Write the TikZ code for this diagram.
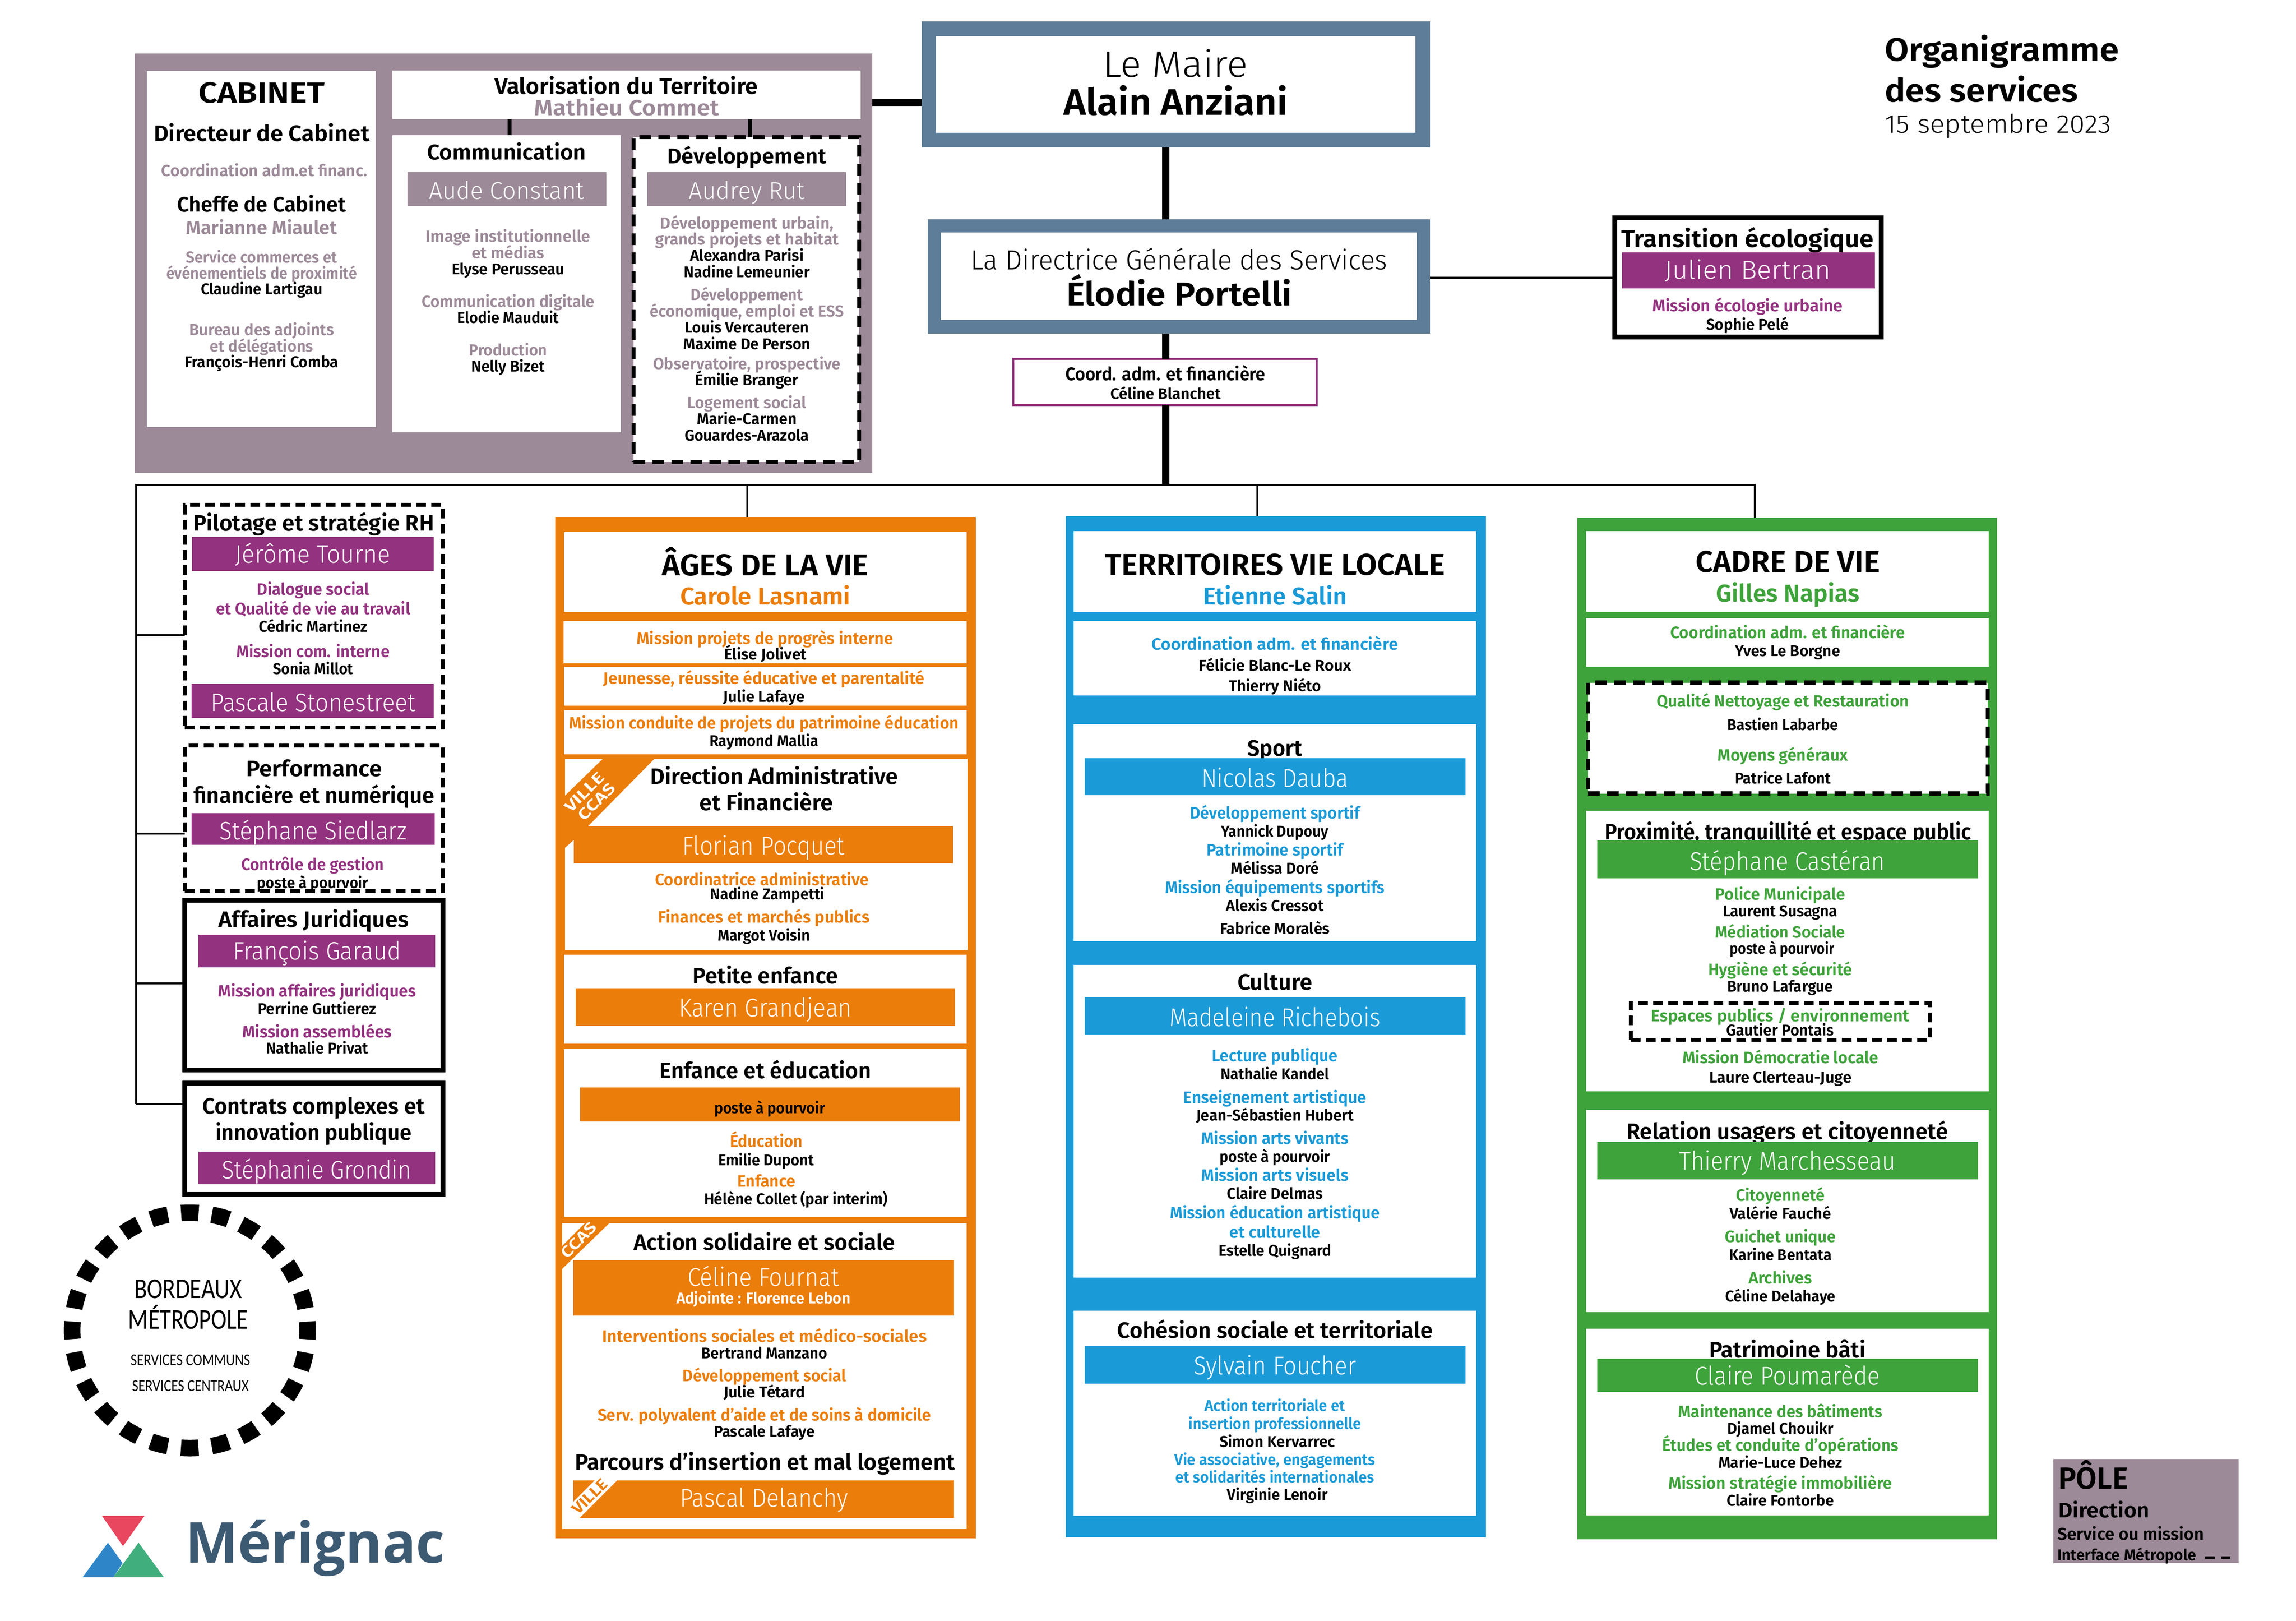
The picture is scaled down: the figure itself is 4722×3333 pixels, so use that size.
\documentclass[tikz,border=0pt]{standalone}
\usepackage{graphicx}
\usepackage{fontspec}
\setmainfont{Fira Sans}
\newfontfamily\lightf{Fira Sans Light}
\newfontfamily\medf{Fira Sans SemiBold}
\newfontfamily\brdf{Carlito}
\newfontfamily\logof{Open Sans}
\definecolor{cgrey}{HTML}{9C8A98}
\definecolor{cslate}{HTML}{5E7D99}
\definecolor{cpur}{HTML}{93327F}
\definecolor{cor}{HTML}{EB7D0A}
\definecolor{cblu}{HTML}{1A9AD7}
\definecolor{cgrn}{HTML}{3EA33A}
\definecolor{cred}{HTML}{E8475F}
\definecolor{clb}{HTML}{2E86C8}
\definecolor{clg}{HTML}{41AE7E}
\definecolor{clt}{HTML}{3D5A73}
\newcommand\tk{\medf\color{black}}
\newcommand\tg{\medf\color{cgrey}}
\newcommand\tp{\medf\color{cpur}}
\newcommand\tor{\medf\color{cor}}
\newcommand\tbl{\medf\color{cblu}}
\newcommand\tgn{\medf\color{cgrn}}
\newcommand\tws{\medf\color{white}}
\newcommand\twl{\lightf\color{white}}
\newcommand\tkl{\lightf\color{black}}
\newsavebox\tbx
\newcounter{tc}
% text fitted to a width in reference pixels: \fitt{width}{size}{font}{text}
\newcommand\fitt[4]{%
  \pgfmathsetmacro\fsz{#2*0.2}%
  \sbox\tbx{\fontsize{\fsz pt}{\fsz pt}\selectfont #3 #4}%
  \pgfmathsetmacro\rr{(#1*0.2)/\the\wd\tbx}%
  \scalebox{\rr}[1]{\usebox\tbx}%
}
% \T{x}{y}{width}{size}{font}{text}
\newcommand\T[6]{%
  \stepcounter{tc}%
  \pgfmathsetmacro\by{#2+3+0.34*#4}%
  \node[anchor=base,inner sep=0pt,outer sep=0pt] (t\arabic{tc}) at (#1,\by) {\fitt{#3}{#4}{#5}{#6}};%
}
% rotated tag
\newcommand\R[6]{%
  \stepcounter{tc}%
  \node[anchor=center,rotate=45,inner sep=0pt,outer sep=0pt] (t\arabic{tc}) at (#1,#2) {\fitt{#3}{#4}{#5}{#6}};%
}
% \B{name}{x0}{y0}{x1}{y1}{style}
\newcommand\B[6]{%
  \node[anchor=north west,inner sep=0pt,outer sep=0pt,minimum width={(#4-#2)*0.2pt},minimum height={(#5-#3)*0.2pt},#6] (#1) at (#2,#3) {};%
}
\tikzset{
  x=0.2pt,y=-0.2pt,
  whitebox/.style={fill=white},
  dashA/.style={draw=black,fill=white,line width=1.7pt,dash pattern=on 4.8pt off 3pt},
  dashB/.style={draw=black,fill=white,line width=1.6pt,dash pattern=on 4pt off 2.2pt},
  solidbox/.style={draw=black,fill=white,line width=1.9pt},
  thinlink/.style={draw=black,line width=0.8pt},
  midlink/.style={draw=black,line width=1.6pt},
  trunk/.style={draw=black,line width=3pt},
}
\begin{document}
\begin{tikzpicture}
\useasboundingbox (0,0) rectangle (4722,3333);
% ---------- top: cabinet panel
\B{cab}{276.5}{110}{1794}{972}{fill=cgrey}
\B{cabw}{302}{146}{773}{878}{whitebox}
\B{val}{807}{145}{1770}{245}{whitebox}
\B{comm}{807}{277.5}{1276.5}{888.5}{whitebox}
\B{dev}{1303}{282}{1767}{950}{dashA}
\B{audeb}{838}{354}{1247}{423.5}{fill=cgrey}
\B{audreyb}{1331}{354}{1740}{423.5}{fill=cgrey}
\coordinate (vx1) at (1048,260);
\coordinate (vx2) at (1543,260);
\coordinate (cy) at (1850,210);
\draw[midlink] (vx1 |- val.south) -- (vx1 |- comm.north);
\draw[midlink] (vx2 |- val.south) -- (vx2 |- dev.north);
\T{538}{188}{260}{60}{\tk}{CABINET}
\T{538}{272}{444}{46}{\tk}{Directeur de Cabinet}
\T{544}{348}{424}{33}{\tg}{Coordination adm.et financ.}
\T{538}{418}{347}{43}{\tk}{Cheffe de Cabinet}
\T{538}{466}{311}{38}{\tg}{Marianne Miaulet}
\T{538}{526}{311}{33}{\tg}{Service commerces et}
\T{538}{559}{392}{33}{\tg}{événementiels de proximité}
\T{538}{592}{250}{32}{\tk}{Claudine Lartigau}
\T{538}{675}{298}{33}{\tg}{Bureau des adjoints}
\T{538}{709}{213}{33}{\tg}{et délégations}
\T{538}{742}{316}{32}{\tk}{François-Henri Comba}
\T{1288}{175}{542}{46}{\tk}{Valorisation du Territoire}
\T{1289}{219}{381}{45}{\tg}{Mathieu Commet}
\T{1042}{311}{327}{44}{\tk}{Communication}
\T{1042}{389}{319}{50}{\twl}{Aude Constant}
\T{1045}{483}{339}{33}{\tg}{Image institutionnelle}
\T{1045}{517}{150}{33}{\tg}{et médias}
\T{1045}{551}{232}{32}{\tk}{Elyse Perusseau}
\T{1045}{617}{356}{33}{\tg}{Communication digitale}
\T{1045}{651}{209}{32}{\tk}{Elodie Mauduit}
\T{1045}{717}{161}{33}{\tg}{Production}
\T{1045}{751}{151}{32}{\tk}{Nelly Bizet}
\T{1536}{319}{327}{44}{\tk}{Développement}
\T{1536}{389}{239}{50}{\twl}{Audrey Rut}
\T{1536}{456}{357}{33}{\tg}{Développement urbain,}
\T{1536}{489}{378}{33}{\tg}{grands projets et habitat}
\T{1536}{523}{234}{32}{\tk}{Alexandra Parisi}
\T{1536}{557}{259}{32}{\tk}{Nadine Lemeunier}
\T{1536}{603}{231}{33}{\tg}{Développement}
\T{1536}{637}{399}{33}{\tg}{économique, emploi et ESS}
\T{1536}{671}{255}{32}{\tk}{Louis Vercauteren}
\T{1536}{705}{261}{32}{\tk}{Maxime De Person}
\T{1536}{745}{386}{33}{\tg}{Observatoire, prospective}
\T{1536}{779}{213}{32}{\tk}{Émilie Branger}
\T{1536}{825}{245}{33}{\tg}{Logement social}
\T{1536}{859}{205}{32}{\tk}{Marie-Carmen}
\T{1536}{893}{256}{32}{\tk}{Gouardes-Arazola}
% ---------- maire, DGS
\B{maire}{1896}{44}{2941}{302.5}{fill=cslate}
\B{mairew}{1925}{74}{2911}{273}{whitebox}
\B{dgs}{1908}{451}{2941}{686}{fill=cslate}
\B{dgsw}{1935}{478}{2914}{658}{whitebox}
\B{coord}{2084}{738}{2708}{833}{draw=cpur,fill=white,line width=0.9pt}
\B{trans}{3321}{448}{3869}{693}{solidbox}
\B{julb}{3336}{519}{3856}{592.5}{fill=cpur}
\coordinate (tr) at (2397,997);
\coordinate (busL) at (279.6,997);
\coordinate (busR) at (3609,997);
\coordinate (dy) at (3000,571);
\draw[trunk] (cab.east |- cy) -- (maire.west |- cy);
\draw[trunk] (tr |- maire.south) -- (tr |- dgs.north);
\draw[trunk] (tr |- dgs.south) -- (tr |- coord.north);
\draw[trunk] (tr |- coord.south) -- (tr);
\draw[thinlink] (dgs.east |- dy) -- (trans.west |- dy);
\T{2417}{130}{298}{76}{\tkl}{Le Maire}
\T{2418}{208}{462}{76}{\tk}{Alain Anziani}
\T{2425}{532}{857}{57}{\tkl}{La Directrice Générale des Services}
\T{2425}{602}{464}{68}{\tk}{Élodie Portelli}
\T{2397}{767}{411}{38}{\tk}{Coord. adm. et financière}
\T{2397}{807}{227}{31}{\tk}{Céline Blanchet}
\T{3594}{488}{520}{50}{\tk}{Transition écologique}
\T{3594}{552}{342}{53}{\twl}{Julien Bertran}
\T{3594}{626}{392}{34}{\tp}{Mission écologie urbaine}
\T{3594}{665}{170}{32}{\tk}{Sophie Pelé}
\T{4117}{100}{482}{67}{\tk}{Organigramme}
\T{4075}{184}{398}{67}{\tk}{des services}
\T{4109}{252}{466}{53}{\tkl}{15 septembre 2023}
% ---------- left stack
\B{pil}{380}{1038}{911}{1495.5}{dashB}
\B{perf}{380}{1533}{911}{1832}{dashB}
\B{aff}{380}{1851}{911}{2200.5}{solidbox}
\B{contr}{380}{2227}{911}{2456}{solidbox}
\T{645}{1073}{496}{46}{\tk}{Pilotage et stratégie RH}
\B{jerb}{395.4}{1104}{892}{1174}{fill=cpur}
\T{643}{1137}{319}{52}{\twl}{Jérôme Tourne}
\T{644}{1208.5}{231}{34}{\tp}{Dialogue social}
\T{644}{1249}{400}{34}{\tp}{et Qualité de vie au travail}
\T{644}{1286}{224}{32}{\tk}{Cédric Martinez}
\T{644}{1337}{315}{34}{\tp}{Mission com. interne}
\T{644}{1373}{165}{32}{\tk}{Sonia Millot}
\B{pasb}{394}{1405.6}{892}{1476}{fill=cpur}
\T{644}{1442}{421}{52}{\twl}{Pascale Stonestreet}
\T{646}{1578}{280}{46}{\tk}{Performance}
\T{646}{1633}{496}{46}{\tk}{financière et numérique}
\B{steb}{394}{1671.5}{894}{1736.6}{fill=cpur}
\T{644}{1706}{385}{52}{\twl}{Stéphane Siedlarz}
\T{643}{1775}{294}{34}{\tp}{Contrôle de gestion}
\T{643}{1813}{229}{32}{\tk}{poste à pourvoir}
\T{645}{1888}{391}{46}{\tk}{Affaires Juridiques}
\B{frab}{408}{1922}{895}{1989}{fill=cpur}
\T{652}{1953}{345}{52}{\twl}{François Garaud}
\T{652}{2035}{407}{34}{\tp}{Mission affaires juridiques}
\T{652}{2072}{244}{32}{\tk}{Perrine Guttierez}
\T{652}{2119}{308}{34}{\tp}{Mission assemblées}
\T{652}{2153}{210}{32}{\tk}{Nathalie Privat}
\T{645}{2272}{457}{46}{\tk}{Contrats complexes et}
\T{645}{2326}{403}{46}{\tk}{innovation publique}
\B{stgb}{408}{2368}{895}{2435}{fill=cpur}
\T{651}{2403}{389}{52}{\twl}{Stéphanie Grondin}
% ---------- orange column
\B{ages}{1142}{1063}{2006.6}{3163}{fill=cor}
\B{o1}{1160}{1093.5}{1988}{1257.6}{whitebox}
\B{o2}{1159}{1277}{1988}{1364}{whitebox}
\B{o3}{1160}{1371}{1988}{1451}{whitebox}
\B{o4}{1160}{1460}{1988}{1551}{whitebox}
\B{o5}{1162}{1560}{1989.5}{1953}{whitebox}
\B{o6}{1160}{1963}{1988}{2146}{whitebox}
\B{o7}{1160}{2157}{1988}{2502}{whitebox}
\B{o8}{1156}{2515}{1988}{3144}{whitebox}
\T{1574}{1159}{425}{62}{\tk}{ÂGES DE LA VIE}
\T{1574}{1223}{350}{50}{\tor}{Carole Lasnami}
\T{1573}{1309.5}{528}{34}{\tor}{Mission projets de progrès interne}
\T{1574}{1342.5}{170}{32}{\tk}{Élise Jolivet}
\T{1571}{1392}{661}{34}{\tor}{Jeunesse, réussite éducative et parentalité}
\T{1571}{1430}{168}{32}{\tk}{Julie Lafaye}
\T{1571}{1484}{802}{34}{\tor}{Mission conduite de projets du patrimoine éducation}
\T{1571}{1521}{224}{32}{\tk}{Raymond Mallia}
\fill[cor] (1162,1636) -- (1240,1560) -- (1346,1560) -- (1209,1699) -- (1180,1699) -- (1180,1727) -- (1162,1743) -- cycle;
\R{1202}{1629}{101}{32}{\tws}{VILLE}
\R{1227}{1648}{94}{32}{\tws}{CCAS}
\T{1592}{1594}{509}{46}{\tk}{Direction Administrative}
\T{1576}{1648}{275}{46}{\tk}{et Financière}
\B{florb}{1180}{1699}{1960}{1775}{fill=cor}
\T{1570}{1736}{334}{53}{\twl}{Florian Pocquet}
\T{1567}{1806}{440}{34}{\tor}{Coordinatrice administrative}
\T{1578}{1836}{235}{32}{\tk}{Nadine Zampetti}
\T{1571}{1883}{435}{34}{\tor}{Finances et marchés publics}
\T{1571}{1920.5}{190}{32}{\tk}{Margot Voisin}
\T{1574}{2004}{299}{46}{\tk}{Petite enfance}
\B{karb}{1184}{2032}{1964}{2109}{fill=cor}
\T{1574}{2069}{356}{53}{\twl}{Karen Grandjean}
\T{1574}{2199}{435}{46}{\tk}{Enfance et éducation}
\B{posb}{1193}{2236}{1974}{2306}{fill=cor}
\T{1583}{2276}{228}{32}{\tk}{poste à pourvoir}
\T{1576}{2344}{150}{34}{\tor}{Éducation}
\T{1576}{2382.5}{197}{32}{\tk}{Emilie Dupont}
\T{1576}{2426}{120}{34}{\tor}{Enfance}
\T{1637}{2463}{378}{32}{\tk}{Hélène Collet (par interim)}
\fill[cor] (1156,2562) -- (1203,2515) -- (1253,2515) -- (1156,2609) -- cycle;
\R{1190}{2550}{90}{32}{\tws}{CCAS}
\T{1572}{2552}{538}{46}{\tk}{Action solidaire et sociale}
\B{celb}{1179}{2591}{1962}{2704.5}{fill=cor}
\T{1570}{2623}{312}{53}{\twl}{Céline Fournat}
\T{1570}{2667}{358}{32}{\tws}{Adjointe : Florence Lebon}
\T{1572}{2744.5}{668}{34}{\tor}{Interventions sociales et médico-sociales}
\T{1572}{2779.6}{259}{32}{\tk}{Bertrand Manzano}
\T{1572}{2826}{337}{34}{\tor}{Développement social}
\T{1572}{2859.6}{168}{32}{\tk}{Julie Tétard}
\T{1572}{2906.6}{686}{34}{\tor}{Serv. polyvalent d’aide et de soins à domicile}
\T{1572}{2941}{208}{32}{\tk}{Pascale Lafaye}
\T{1573}{3004}{782}{46}{\tk}{Parcours d’insertion et mal logement}
\B{pasdb}{1179}{3044}{1962}{3121}{fill=cor}
\fill[white] (1223,3044) -- (1269,3044) -- (1192,3121) -- (1178,3121) -- (1178,3089) -- cycle;
\T{1571}{3077}{346}{53}{\twl}{Pascal Delanchy}
\R{1213}{3077}{88}{32}{\tor}{VILLE}
% ---------- blue column
\B{terr}{2192}{1060.5}{3056}{3161}{fill=cblu}
\B{b1}{2208}{1092}{3036}{1257.6}{whitebox}
\B{b2}{2208}{1276.6}{3036}{1429.5}{whitebox}
\B{b3}{2208}{1489}{3036}{1934.6}{whitebox}
\B{b4}{2208}{1983.7}{3036}{2626.7}{whitebox}
\B{b5}{2208}{2695.4}{3036}{3117}{whitebox}
\T{2622}{1158}{700}{62}{\tk}{TERRITOIRES VIE LOCALE}
\T{2622}{1223}{296}{50}{\tbl}{Etienne Salin}
\T{2622}{1321.5}{507}{34}{\tbl}{Coordination adm. et financière}
\T{2622}{1365.7}{313}{32}{\tk}{Félicie Blanc-Le Roux}
\T{2622}{1408}{190}{32}{\tk}{Thierry Niéto}
\T{2622}{1535.5}{114}{46}{\tk}{Sport}
\B{nicb}{2230.5}{1558.6}{3014}{1635}{fill=cblu}
\T{2622}{1597}{302}{53}{\twl}{Nicolas Dauba}
\T{2622}{1669}{350}{34}{\tbl}{Développement sportif}
\T{2622}{1706.6}{221}{32}{\tk}{Yannick Dupouy}
\T{2622}{1745}{281}{34}{\tbl}{Patrimoine sportif}
\T{2622}{1783}{181}{32}{\tk}{Mélissa Doré}
\T{2622}{1821.6}{452}{34}{\tbl}{Mission équipements sportifs}
\T{2622}{1859.5}{201}{32}{\tk}{Alexis Cressot}
\T{2622}{1906.5}{226}{32}{\tk}{Fabrice Moralès}
\T{2622}{2016.7}{154}{46}{\tk}{Culture}
\B{madb}{2230.5}{2050}{3014}{2127}{fill=cblu}
\T{2622}{2089.6}{434}{53}{\twl}{Madeleine Richebois}
\T{2622}{2168}{259}{34}{\tbl}{Lecture publique}
\T{2622}{2206}{224}{32}{\tk}{Nathalie Kandel}
\T{2622}{2253.5}{377}{34}{\tbl}{Enseignement artistique}
\T{2622}{2290.6}{324}{32}{\tk}{Jean-Sébastien Hubert}
\T{2622}{2338}{303}{34}{\tbl}{Mission arts vivants}
\T{2622}{2375.5}{227}{32}{\tk}{poste à pourvoir}
\T{2622}{2414}{303}{34}{\tbl}{Mission arts visuels}
\T{2622}{2452}{197}{32}{\tk}{Claire Delmas}
\T{2622}{2491}{432}{34}{\tbl}{Mission éducation artistique}
\T{2622}{2531}{187}{34}{\tbl}{et culturelle}
\T{2622}{2569}{232}{32}{\tk}{Estelle Quignard}
\T{2622}{2733}{649}{46}{\tk}{Cohésion sociale et territoriale}
\B{sylb}{2230.5}{2767.7}{3014}{2845}{fill=cblu}
\T{2622}{2805}{334}{53}{\twl}{Sylvain Foucher}
\T{2622}{2888}{289}{32}{\tbl}{Action territoriale et}
\T{2622}{2925}{355}{32}{\tbl}{insertion professionnelle}
\T{2627}{2962}{238}{32}{\tk}{Simon Kervarrec}
\T{2622}{2998.5}{413}{32}{\tbl}{Vie associative, engagements}
\T{2622}{3035}{409}{32}{\tbl}{et solidarités internationales}
\T{2627}{3071}{207}{32}{\tk}{Virginie Lenoir}
% ---------- green column
\B{cadre}{3243.5}{1064.7}{4107}{3165.4}{fill=cgrn}
\B{g1}{3262}{1092}{4090}{1257.6}{whitebox}
\B{g2}{3262}{1271}{4090}{1371}{whitebox}
\B{g3}{3266}{1403.5}{4088}{1631.5}{dashA}
\B{g4}{3262}{1667}{4090}{2244}{whitebox}
\B{g5}{3262}{2282}{4090}{2697.5}{whitebox}
\B{g6}{3262}{2732}{4090}{3116}{whitebox}
\T{3677}{1152}{379}{62}{\tk}{CADRE DE VIE}
\T{3677}{1217}{295}{50}{\tgn}{Gilles Napias}
\T{3676.5}{1297.6}{482}{34}{\tgn}{Coordination adm. et financière}
\T{3676.5}{1335.5}{216}{32}{\tk}{Yves Le Borgne}
\T{3666.5}{1439}{519}{34}{\tgn}{Qualité Nettoyage et Restauration}
\T{3666.5}{1488}{228}{32}{\tk}{Bastien Labarbe}
\T{3666.5}{1549.5}{268}{34}{\tgn}{Moyens généraux}
\T{3666.5}{1598}{197}{32}{\tk}{Patrice Lafont}
\T{3677}{1708}{754}{46}{\tk}{Proximité, tranquillité et espace public}
\B{casb}{3285}{1728}{4068}{1805.5}{fill=cgrn}
\T{3676}{1768}{402}{53}{\twl}{Stéphane Castéran}
\T{3661}{1835.7}{267}{34}{\tgn}{Police Municipale}
\T{3661}{1871}{236}{32}{\tk}{Laurent Susagna}
\T{3661}{1913.6}{268}{34}{\tgn}{Médiation Sociale}
\T{3665}{1948}{215}{32}{\tk}{poste à pourvoir}
\T{3661}{1991}{296}{34}{\tgn}{Hygiène et sécurité}
\T{3661}{2026}{218}{32}{\tk}{Bruno Lafargue}
\B{esp}{3354}{2061.6}{3969}{2138}{dashB}
\T{3661}{2086}{532}{34}{\tgn}{Espaces publics / environnement}
\T{3661}{2116}{221}{32}{\tk}{Gautier Pontais}
\T{3661.5}{2172}{403}{34}{\tgn}{Mission Démocratie locale}
\T{3661.5}{2213}{293}{32}{\tk}{Laure Clerteau-Juge}
\T{3676}{2324}{662}{46}{\tk}{Relation usagers et citoyenneté}
\B{thib}{3285}{2347.5}{4068}{2424.6}{fill=cgrn}
\T{3676}{2384}{446}{53}{\twl}{Thierry Marchesseau}
\T{3661.5}{2455}{183}{34}{\tgn}{Citoyenneté}
\T{3661.5}{2492.7}{209}{32}{\tk}{Valérie Fauché}
\T{3661.5}{2540}{229}{34}{\tgn}{Guichet unique}
\T{3661.5}{2578}{211}{32}{\tk}{Karine Bentata}
\T{3661.5}{2625}{131}{34}{\tgn}{Archives}
\T{3661.5}{2663}{227}{32}{\tk}{Céline Delahaye}
\T{3676}{2772.6}{322}{46}{\tk}{Patrimoine bâti}
\B{clab}{3285}{2793.6}{4068}{2862}{fill=cgrn}
\T{3676}{2826.6}{381}{53}{\twl}{Claire Poumarède}
\T{3661.5}{2899.6}{420}{34}{\tgn}{Maintenance des bâtiments}
\T{3661.5}{2934.6}{219}{32}{\tk}{Djamel Chouikr}
\T{3661.5}{2969}{486}{34}{\tgn}{Études et conduite d’opérations}
\T{3661.5}{3005}{255}{32}{\tk}{Marie-Luce Dehez}
\T{3661.5}{3047}{460}{34}{\tgn}{Mission stratégie immobilière}
\T{3661.5}{3083}{220}{32}{\tk}{Claire Fontorbe}
% ---------- bus connectors
\coordinate (lx1) at (1537,1030);
\coordinate (lx2) at (2586,1030);
\coordinate (ly1) at (330,1306);
\coordinate (ly2) at (330,1714);
\coordinate (ly3) at (330,2022);
\coordinate (ly4) at (330,2270);
\draw[thinlink,line cap=rect] (busL) -- (busR);
\draw[thinlink] (lx1 |- busL) -- (lx1 |- ages.north);
\draw[thinlink] (lx2 |- busL) -- (lx2 |- terr.north);
\draw[thinlink] (busR) -- (busR |- cadre.north);
\draw[thinlink] (busL) -- (busL |- ly4);
\draw[thinlink] (busL |- ly1) -- (pil.west |- ly1);
\draw[thinlink] (busL |- ly2) -- (perf.west |- ly2);
\draw[thinlink] (busL |- ly3) -- (aff.west |- ly3);
\draw[thinlink] (busL |- ly4) -- (contr.west |- ly4);
% ---------- metropole ring
\node[circle,draw=black,fill=none,inner sep=0pt,outer sep=0pt,minimum size=96.8pt,line width=6.8pt,dash pattern=on 7.2pt off 5.47pt,dash phase=3.6pt] (ring) at (390.4,2735.5) {};
\T{387}{2646}{222}{59}{\brdf\color{black}}{BORDEAUX}
\T{387}{2709.6}{246}{59}{\brdf\color{black}}{MÉTROPOLE}
\T{391.6}{2793}{246}{34}{\brdf\color{black}}{SERVICES COMMUNS}
\T{391.6}{2846}{240}{34}{\brdf\color{black}}{SERVICES CENTRAUX}
% ---------- logo
\fill[cred] (210,3117) -- (297,3117) -- (253,3179) -- cycle;
\fill[clb] (222,3172) -- (170,3243) -- (233,3243) -- (252,3214) -- cycle;
\fill[clg] (285,3172) -- (233,3243) -- (337,3243) -- cycle;
\T{648}{3171}{534}{116}{\logof\bfseries\color{clt}}{Mérignac}
% ---------- legend
\B{leg}{4223}{3000}{4604}{3214}{fill=cgrey}
\T{4305}{3037}{144}{63}{\tk}{PÔLE}
\T{4327}{3103}{188}{43}{\tk}{Direction}
\T{4382}{3152}{302}{35}{\tk}{Service ou mission}
\T{4374}{3195}{286}{32}{\tk}{Interface Métropole}
\coordinate (d1a) at (4535,3202);
\coordinate (d1b) at (4555,3202);
\coordinate (d2a) at (4568,3202);
\coordinate (d2b) at (4587,3202);
\draw[black,line width=1pt] (d1a) -- (d1b);
\draw[black,line width=1pt] (d2a) -- (d2b);
\end{tikzpicture}
\end{document}
